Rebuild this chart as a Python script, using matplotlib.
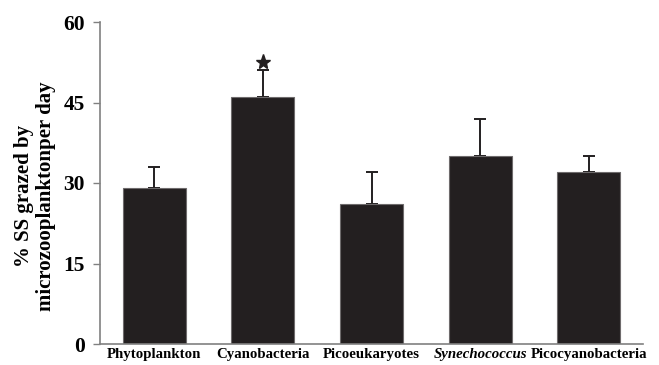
import numpy as np
import matplotlib.pyplot as plt

groups = ['Phytoplankton', 'Cyanobacteria', 'Picoeukaryotes', 'Synechococcus', 'Picocyanobacteria']
grazed = [29, 46, 26, 35, 32]
err_up = [4, 5, 6, 7, 3]
signif = [False, True, False, False, False]

plt.rcParams['font.family'] = ['Liberation Serif', 'DejaVu Serif']
plt.rcParams['font.weight'] = 'bold'

fig = plt.figure(figsize=(6.59, 3.65), dpi=100)
ax = fig.add_axes([100/659, 21/365, 543/659, 322/365])

x = np.arange(len(groups))
ax.bar(x, grazed, width=0.58, color='#231f20', edgecolor='#6e6b6c', linewidth=0.8, zorder=2)
ax.errorbar(x, grazed, yerr=[np.zeros(len(x)), err_up], fmt='none',
            ecolor='#231f20', elinewidth=1.4, capsize=4, capthick=1.4, zorder=1)

for xi, g, e, s in zip(x, grazed, err_up, signif):
    if s:
        ax.plot(xi, g + e + 1.6, marker='*', color='#231f20', markersize=11, clip_on=False)

ax.set_xlim(-0.5, len(groups) - 0.5)
ax.set_ylim(0, 60)
ax.set_yticks([0, 15, 30, 45, 60])
ax.set_xticks(x)
ax.set_xticklabels(groups, fontsize=10.7, fontweight='bold')
ax.get_xticklabels()[3].set_fontstyle('italic')
ax.tick_params(axis='x', length=0, pad=3)
ax.tick_params(axis='y', labelsize=15.5, length=5, width=1, color='#808080', pad=6)
for lbl in ax.get_yticklabels():
    lbl.set_fontweight('bold')

ax.spines['top'].set_visible(False)
ax.spines['right'].set_visible(False)
for side in ['left', 'bottom']:
    ax.spines[side].set_color('#808080')
    ax.spines[side].set_linewidth(1.2)

ax.set_ylabel('% SS grazed by\nmicrozooplanktonper day', fontsize=15, fontweight='bold',
              linespacing=1.15, labelpad=5)
ax.yaxis.label.set_y(0.46)

fig.savefig('out.png', dpi=100)
